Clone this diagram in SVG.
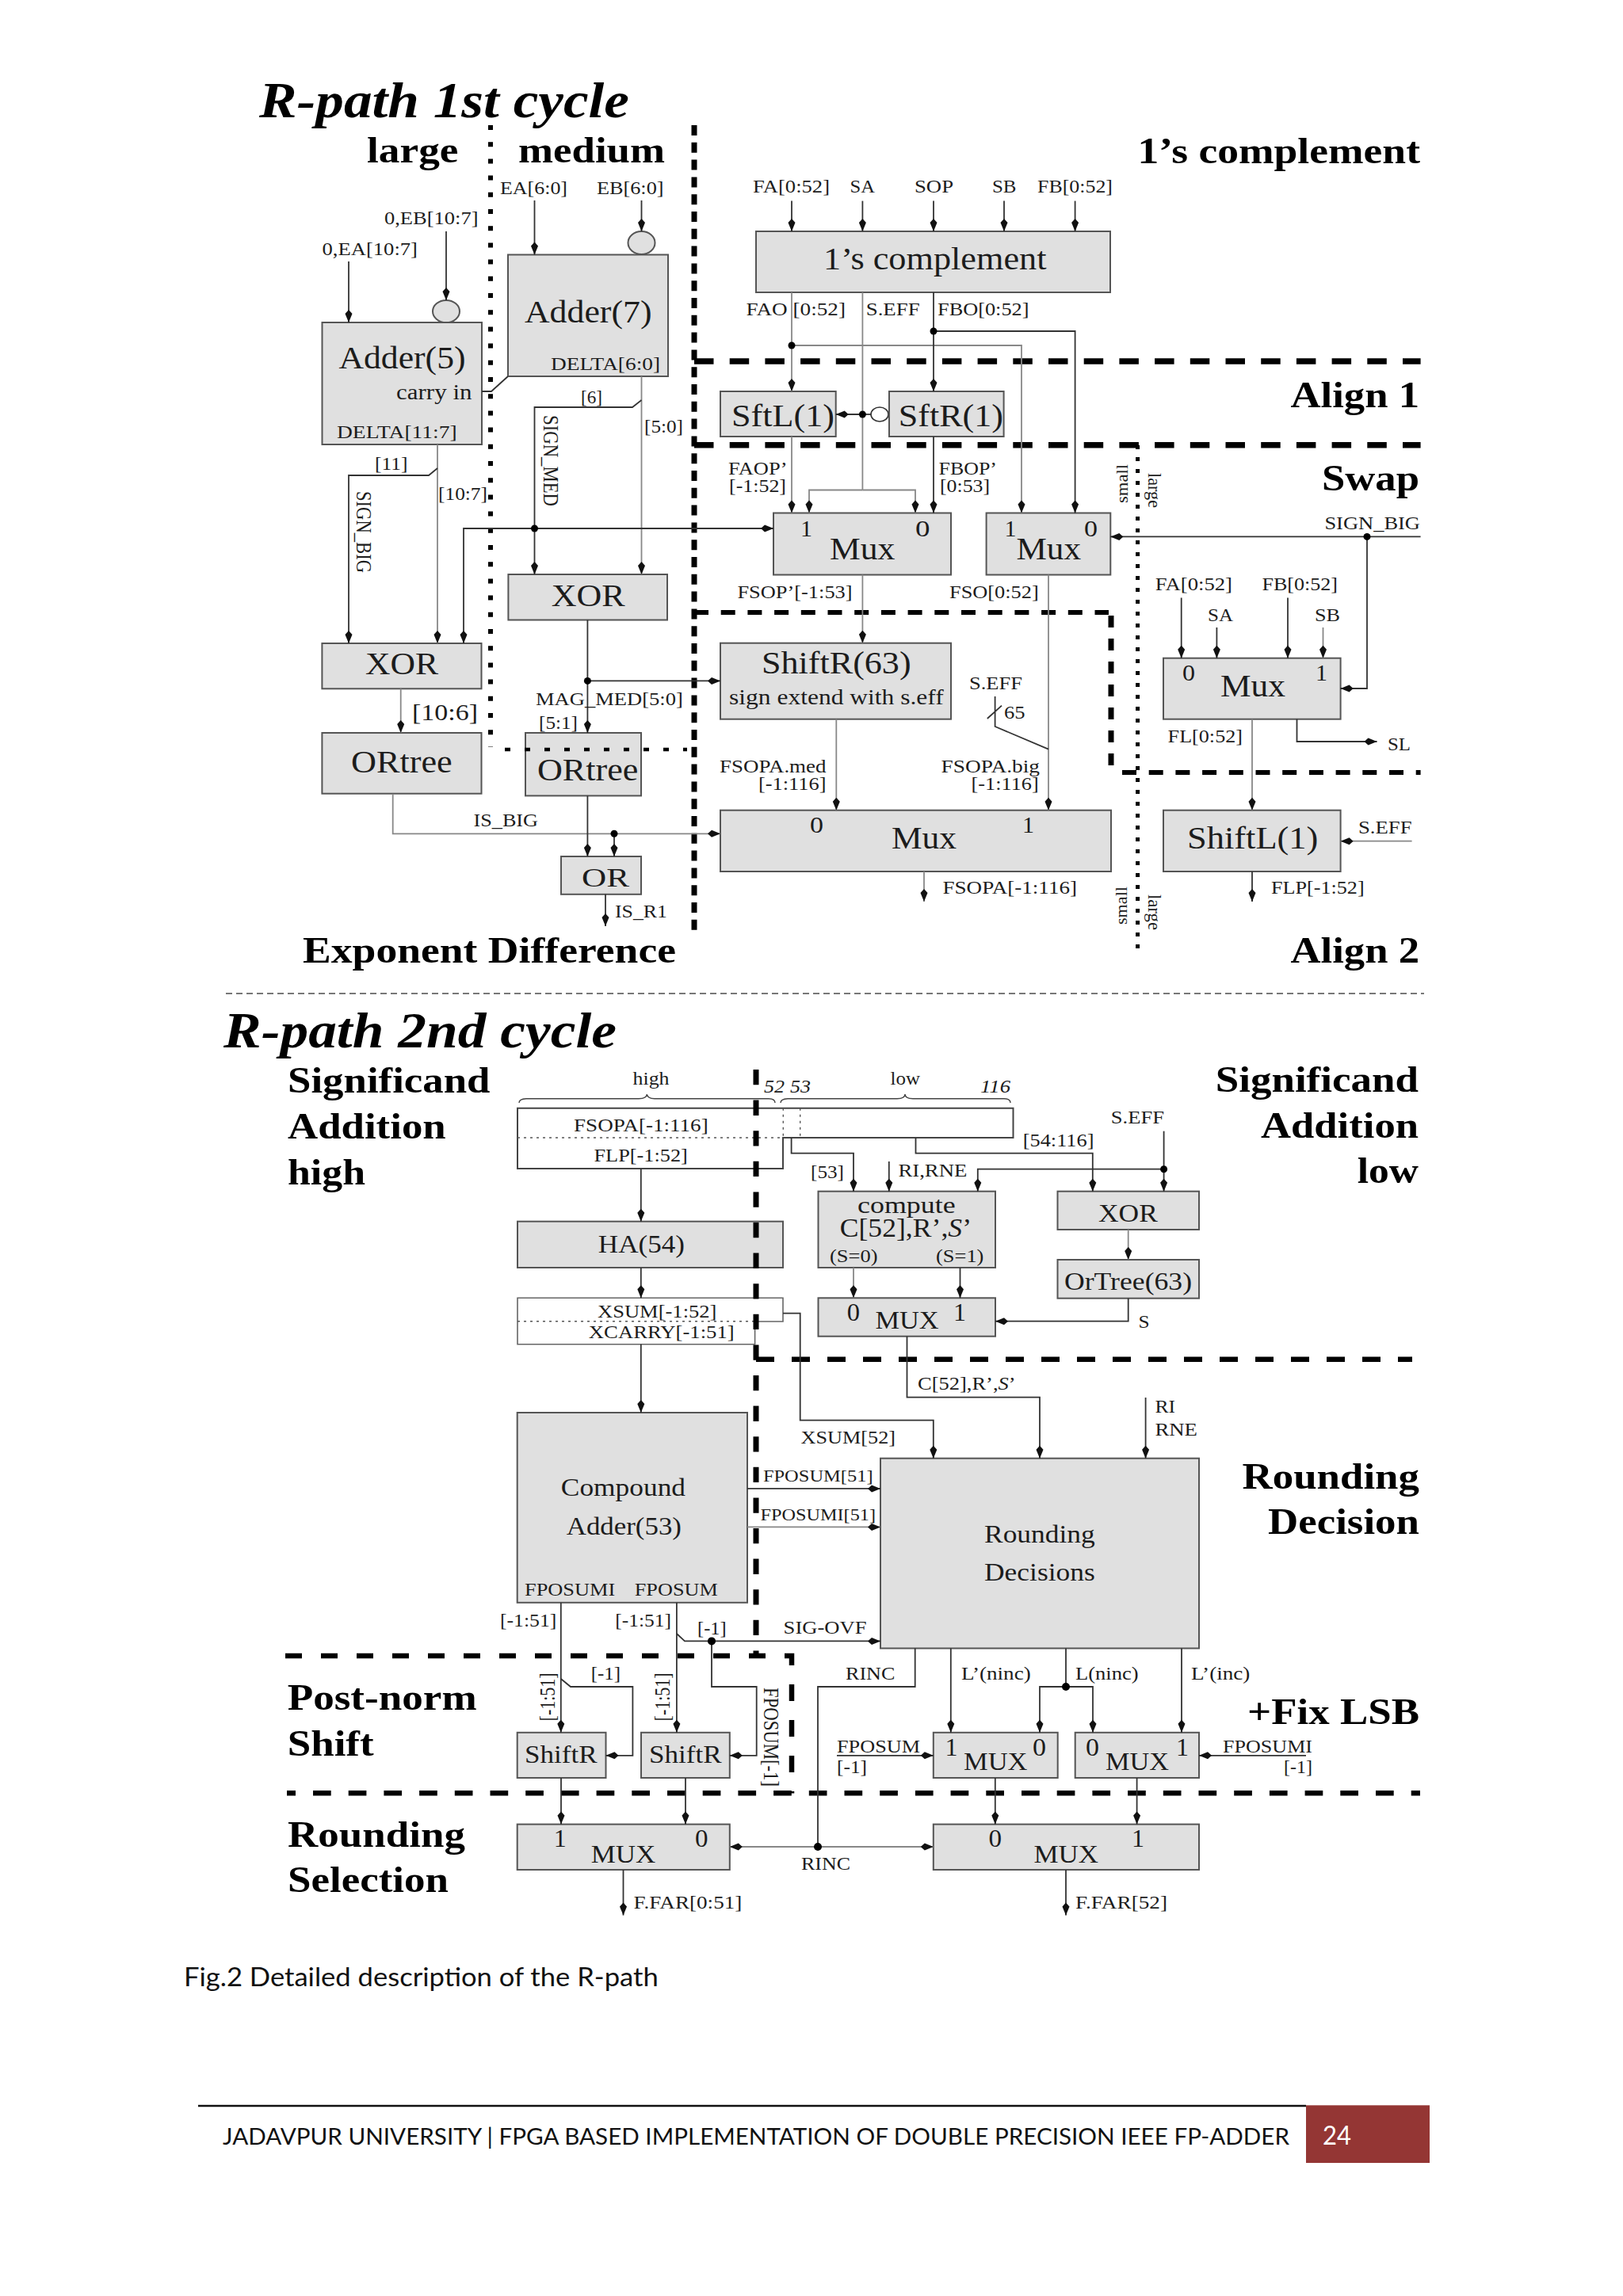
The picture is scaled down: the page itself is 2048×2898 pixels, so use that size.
<svg xmlns="http://www.w3.org/2000/svg" width="2048" height="2898" viewBox="0 0 2048 2898">
<style>
text{font-family:"Liberation Serif","Times New Roman",serif;fill:#1c1c1c}
.t{font-size:63px;font-weight:bold;font-style:italic;fill:#000}
.h{font-size:46px;font-weight:bold;fill:#000}
.f22{font-size:22px}.f23{font-size:23px}.f24{font-size:24px}.f26{font-size:27px}.f28{font-size:28px}.f30{font-size:30px}.f32{font-size:32px}.f34{font-size:34px}.f40{font-size:40px}
.b{fill:#e0e0e0;stroke:#555;stroke-width:2}
.wb{fill:#fff;stroke:#444;stroke-width:2}
.d{fill:none;stroke:#000}
.w{fill:none;stroke:#333;stroke-width:1.8}
.g{fill:none;stroke:#888;stroke-width:1.8}
.a{marker-end:url(#ah)}
.dot{fill:#000}
.br{fill:none;stroke:#444;stroke-width:1.4}
.ft{font-family:Lato,"Open Sans",sans-serif;fill:#111}
</style>
<defs>
<marker id="ah" markerUnits="userSpaceOnUse" markerWidth="18" markerHeight="12" refX="17" refY="6" orient="auto"><path d="M1 6L6 1.5L17 6L6 10.5Z" fill="#111"/></marker>
</defs>
<rect width="2048" height="2898" fill="#fff"/>

<g id="nodes">
<g id="adder5"><ellipse cx="563" cy="393" rx="17" ry="14" class="b"/><rect x="406.5" y="407" width="201.5" height="154" class="b"/><text x="427.5" y="464.6" class="f40" textLength="160" lengthAdjust="spacingAndGlyphs">Adder(5)</text><text x="500" y="503.6" class="f26" textLength="95.5" lengthAdjust="spacingAndGlyphs">carry in</text><text x="425" y="553" class="f24" textLength="151.6" lengthAdjust="spacingAndGlyphs">DELTA[11:7]</text></g>
<g id="adder7"><ellipse cx="809.5" cy="306.6" rx="17" ry="14.5" class="b"/><rect x="641" y="321.5" width="202" height="153.5" class="b"/><text x="662" y="407" class="f40" textLength="160.5" lengthAdjust="spacingAndGlyphs">Adder(7)</text><text x="695" y="466.5" class="f24" textLength="138" lengthAdjust="spacingAndGlyphs">DELTA[6:0]</text></g>
<g id="xor-med"><rect x="641.4" y="725" width="200.6" height="57.5" class="b"/><text x="695.7" y="765" class="f40" textLength="92.9" lengthAdjust="spacingAndGlyphs">XOR</text></g>
<g id="xor-large"><rect x="406.4" y="812" width="201.1" height="57.3" class="b"/><text x="461" y="851" class="f40" textLength="92" lengthAdjust="spacingAndGlyphs">XOR</text></g>
<g id="ortree-large"><rect x="406.4" y="925" width="201.1" height="76.7" class="b"/><text x="443" y="975" class="f40" textLength="127.7" lengthAdjust="spacingAndGlyphs">ORtree</text></g>
<g id="ortree-med"><rect x="663" y="925" width="146" height="79.4" class="b"/><text x="678" y="984.5" class="f40" textLength="127.4" lengthAdjust="spacingAndGlyphs">ORtree</text></g>
<g id="or"><rect x="708" y="1081" width="101" height="47.8" class="b"/><text x="734" y="1119" class="f34" textLength="60" lengthAdjust="spacingAndGlyphs">OR</text></g>
<g id="ones-complement"><rect x="954" y="292" width="447" height="77" class="b"/><text x="1039" y="340" class="f40" textLength="281.5" lengthAdjust="spacingAndGlyphs">1’s complement</text></g>
<g id="sftl"><rect x="909" y="494" width="145.7" height="57" class="b"/><text x="923" y="537.6" class="f40" textLength="130" lengthAdjust="spacingAndGlyphs">SftL(1)</text></g>
<g id="sftr"><ellipse cx="1110" cy="523" rx="11" ry="9" fill="#fff" stroke="#333" stroke-width="1.6"/><rect x="1122" y="494" width="144.6" height="57" class="b"/><text x="1133.7" y="537.6" class="f40" textLength="132.3" lengthAdjust="spacingAndGlyphs">SftR(1)</text></g>
<g id="mux-swap-1"><rect x="976" y="647.5" width="224" height="78" class="b"/><text x="1010" y="677" class="f30" textLength="15" lengthAdjust="spacingAndGlyphs">1</text><text x="1155" y="677" class="f30" textLength="18.5" lengthAdjust="spacingAndGlyphs">0</text><text x="1047" y="705.6" class="f40" textLength="82.4" lengthAdjust="spacingAndGlyphs">Mux</text></g>
<g id="mux-swap-2"><rect x="1244.6" y="647.5" width="156.7" height="78" class="b"/><text x="1267.5" y="677" class="f30" textLength="15" lengthAdjust="spacingAndGlyphs">1</text><text x="1368" y="677" class="f30" textLength="17" lengthAdjust="spacingAndGlyphs">0</text><text x="1282.5" y="705.6" class="f40" textLength="81.5" lengthAdjust="spacingAndGlyphs">Mux</text></g>
<g id="shiftr63"><rect x="909" y="811.7" width="291" height="96" class="b"/><text x="961" y="850" class="f40" textLength="188.6" lengthAdjust="spacingAndGlyphs">ShiftR(63)</text><text x="920" y="889" class="f26" textLength="270.7" lengthAdjust="spacingAndGlyphs">sign extend with s.eff</text></g>
<g id="mux-align"><rect x="909" y="1022.7" width="493" height="77.3" class="b"/><text x="1022" y="1051" class="f30" textLength="17" lengthAdjust="spacingAndGlyphs">0</text><text x="1290" y="1051" class="f30" textLength="15" lengthAdjust="spacingAndGlyphs">1</text><text x="1125" y="1071" class="f40" textLength="82" lengthAdjust="spacingAndGlyphs">Mux</text></g>
<g id="mux-large"><rect x="1468" y="830.7" width="223.6" height="77" class="b"/><text x="1492" y="859" class="f30" textLength="16" lengthAdjust="spacingAndGlyphs">0</text><text x="1660" y="859" class="f30" textLength="15" lengthAdjust="spacingAndGlyphs">1</text><text x="1540" y="879" class="f40" textLength="82" lengthAdjust="spacingAndGlyphs">Mux</text></g>
<g id="shiftl1"><rect x="1468" y="1022.7" width="223.6" height="77.3" class="b"/><text x="1498" y="1071" class="f40" textLength="165.4" lengthAdjust="spacingAndGlyphs">ShiftL(1)</text></g>

<g id="fsopa-flp"><path d="M653 1398.7H1278.5V1436H988V1475H653Z" class="wb"/><path d="M653 1436H988M988.3 1398.7V1436M1009.7 1398.7V1436" fill="none" stroke="#555" stroke-width="1.4" stroke-dasharray="3 5"/><path d="M655 1392Q655 1387 664 1386.7H806Q816 1386.7 816.4 1381Q817 1386.7 826 1386.7H970Q978 1386.7 978 1392" class="br"/><path d="M985 1392Q985 1387 994 1386.7H1132Q1142 1386.7 1142 1381Q1142 1386.7 1152 1386.7H1267Q1275 1386.7 1275 1392" class="br"/><text x="724" y="1427.7" class="f24" textLength="169.7" lengthAdjust="spacingAndGlyphs">FSOPA[-1:116]</text><text x="749.5" y="1466" class="f24" textLength="118.3" lengthAdjust="spacingAndGlyphs">FLP[-1:52]</text></g>
<g id="ha54"><rect x="653" y="1541.7" width="335" height="58.3" class="b"/><text x="754.8" y="1580.7" class="f32" textLength="109.2" lengthAdjust="spacingAndGlyphs">HA(54)</text></g>
<g id="xsum-xcarry"><path d="M988 1668V1638.3H653V1696.7H952.6V1668Z" fill="#fff" stroke="#666" stroke-width="1.6"/><path d="M653 1667.7H952" fill="none" stroke="#555" stroke-width="1.4" stroke-dasharray="3 5"/><text x="754" y="1662.7" class="f23" textLength="150.4" lengthAdjust="spacingAndGlyphs">XSUM[-1:52]</text><text x="742.8" y="1688.5" class="f23" textLength="183.9" lengthAdjust="spacingAndGlyphs">XCARRY[-1:51]</text></g>
<g id="compute"><rect x="1032.5" y="1503.7" width="223.5" height="96.3" class="b"/><text x="1082" y="1531" class="f30" textLength="123.7" lengthAdjust="spacingAndGlyphs">compute</text><text x="1059.7" y="1561" class="f34" textLength="166.3" lengthAdjust="spacingAndGlyphs">C[52],R’,<tspan font-style="italic">S</tspan>’</text><text x="1047" y="1593" class="f23" textLength="60.5" lengthAdjust="spacingAndGlyphs">(S=0)</text><text x="1181" y="1593" class="f23" textLength="60.4" lengthAdjust="spacingAndGlyphs">(S=1)</text></g>
<g id="mux-low"><rect x="1032.5" y="1638.3" width="223.5" height="48.4" class="b"/><text x="1068.7" y="1667" class="f32" textLength="16.3" lengthAdjust="spacingAndGlyphs">0</text><text x="1203" y="1667" class="f32" textLength="16" lengthAdjust="spacingAndGlyphs">1</text><text x="1104.4" y="1676.7" class="f32" textLength="80.3" lengthAdjust="spacingAndGlyphs">MUX</text></g>
<g id="xor-low"><rect x="1334.5" y="1503.7" width="178.5" height="48.3" class="b"/><text x="1386" y="1541.7" class="f32" textLength="74.8" lengthAdjust="spacingAndGlyphs">XOR</text></g>
<g id="ortree63"><rect x="1334.5" y="1590" width="178.5" height="48.7" class="b"/><text x="1343" y="1628.3" class="f32" textLength="161" lengthAdjust="spacingAndGlyphs">OrTree(63)</text></g>
<g id="compound-adder"><rect x="652.7" y="1783" width="290.3" height="239.8" class="b"/><text x="707.8" y="1888.4" class="f32" textLength="157.2" lengthAdjust="spacingAndGlyphs">Compound</text><text x="714.7" y="1937" class="f32" textLength="145.3" lengthAdjust="spacingAndGlyphs">Adder(53)</text><text x="662" y="2014" class="f24" textLength="114.3" lengthAdjust="spacingAndGlyphs">FPOSUMI</text><text x="800.8" y="2014" class="f24" textLength="104.9" lengthAdjust="spacingAndGlyphs">FPOSUM</text></g>
<g id="rounding-decisions"><rect x="1111" y="1840.7" width="402" height="239.8" class="b"/><text x="1242" y="1947" class="f32" textLength="139.8" lengthAdjust="spacingAndGlyphs">Rounding</text><text x="1242" y="1994.7" class="f32" textLength="139.8" lengthAdjust="spacingAndGlyphs">Decisions</text></g>
<g id="shiftr-1"><rect x="652.7" y="2186.8" width="111.8" height="57.2" class="b"/><text x="662" y="2225.4" class="f32" textLength="91.5" lengthAdjust="spacingAndGlyphs">ShiftR</text></g>
<g id="shiftr-2"><rect x="809" y="2186.8" width="111.8" height="57.2" class="b"/><text x="819" y="2225.4" class="f32" textLength="91.6" lengthAdjust="spacingAndGlyphs">ShiftR</text></g>
<g id="mux-fix-1"><rect x="1177.8" y="2186.8" width="156.9" height="57.2" class="b"/><text x="1192.6" y="2215.8" class="f32" textLength="16" lengthAdjust="spacingAndGlyphs">1</text><text x="1303" y="2215.8" class="f32" textLength="17" lengthAdjust="spacingAndGlyphs">0</text><text x="1216" y="2234" class="f32" textLength="80.5" lengthAdjust="spacingAndGlyphs">MUX</text></g>
<g id="mux-fix-2"><rect x="1356.7" y="2186.8" width="156.3" height="57.2" class="b"/><text x="1370" y="2215.8" class="f32" textLength="17" lengthAdjust="spacingAndGlyphs">0</text><text x="1484" y="2215.8" class="f32" textLength="16" lengthAdjust="spacingAndGlyphs">1</text><text x="1395" y="2234" class="f32" textLength="80" lengthAdjust="spacingAndGlyphs">MUX</text></g>
<g id="mux-sel-1"><rect x="652.7" y="2302.6" width="268.1" height="57.4" class="b"/><text x="698.8" y="2330.7" class="f32" textLength="16" lengthAdjust="spacingAndGlyphs">1</text><text x="877" y="2330.7" class="f32" textLength="16.5" lengthAdjust="spacingAndGlyphs">0</text><text x="745.7" y="2351" class="f32" textLength="81.6" lengthAdjust="spacingAndGlyphs">MUX</text></g>
<g id="mux-sel-2"><rect x="1177.8" y="2302.6" width="335.2" height="57.4" class="b"/><text x="1247.4" y="2330.7" class="f32" textLength="16.6" lengthAdjust="spacingAndGlyphs">0</text><text x="1428" y="2330.7" class="f32" textLength="16" lengthAdjust="spacingAndGlyphs">1</text><text x="1304.4" y="2351" class="f32" textLength="81.6" lengthAdjust="spacingAndGlyphs">MUX</text></g>
</g>

<g id="regions">
<path d="M876 158V1178" class="d" stroke-width="7" stroke-dasharray="13 8.8"/>
<path d="M619 158V943" class="d" stroke-width="6" stroke-dasharray="6 15.2"/>
<path d="M637 946H867" class="d" stroke-width="4.5" stroke-dasharray="7 18"/>
<path d="M876 456H1792.6M876 561.7H1792.6" class="d" stroke-width="7.5" stroke-dasharray="24.5 20.2"/>
<path d="M876 773H1399" class="d" stroke-width="6" stroke-dasharray="18 15.7"/>
<path d="M1402 777V973" class="d" stroke-width="7" stroke-dasharray="15 14"/>
<path d="M1416 975H1792.6" class="d" stroke-width="6" stroke-dasharray="18 15.7"/>
<path d="M1435.6 562V1200" class="d" stroke-width="5" stroke-dasharray="5 10"/>
<path d="M285 1254H1797" fill="none" stroke="#777" stroke-width="2" stroke-dasharray="8 5"/>
<path d="M954 1350V2090" class="d" stroke-width="7" stroke-dasharray="19.3 19.3"/>
<path d="M954 1715.7H1782" class="d" stroke-width="6.5" stroke-dasharray="23 22"/>
<path d="M360 2090H999V2263.5" class="d" stroke-width="6.5" stroke-dasharray="21 24"/>
<path d="M362 2263.3H1792" class="d" stroke-width="6.5" stroke-dasharray="22.7 22" stroke-dashoffset="11.7"/>
</g>

<g id="connectors">
<path class="w a" d="M440 330V407"/><path class="w a" d="M563 292V379"/><path class="w a" d="M674.5 253V321.5"/><path class="w a" d="M809.5 253V292"/>
<path class="w" d="M608 494H620L641 475"/>
<path class="g a" d="M809.5 475V725"/><path class="w a" d="M809.5 505L798 514H674.5V725"/>
<path class="g a" d="M552 561V812"/><path class="w a" d="M552 591L541 600H440V812"/>
<path class="w a" d="M674.5 667H976"/><path class="w a" d="M674.5 667H585V812"/>
<path class="w a" d="M741.4 782.5V925"/><path class="w a" d="M741.4 859.4H909"/>
<path class="g a" d="M505.7 869.3V925"/>
<path class="g a" d="M495.7 1003V1052.3H909"/><path class="w a" d="M775 1052.3V1081"/><path class="w a" d="M741.4 1004.4V1081"/><path class="w a" d="M764 1128.8V1169"/>
<path class="w a" d="M999 253.6V292"/><path class="w a" d="M1088.4 253.6V292"/><path class="w a" d="M1178 253.6V292"/><path class="w a" d="M1267 253.6V292"/><path class="w a" d="M1356.6 253.6V292"/>
<path class="g a" d="M999 369V494"/><path class="g a" d="M999 436H1289V647.5"/>
<path class="w a" d="M1178 369V494"/><path class="w a" d="M1178 418H1356.6V647.5"/>
<path class="g" d="M1088.4 369V618.5"/><path class="g a" d="M1088.4 618.5H1021V647.5"/><path class="g a" d="M1088.4 618.5H1155V647.5"/>
<path class="w a" d="M1088.4 523H1054.7"/><path class="w" d="M1088.4 523H1099"/>
<path class="g a" d="M999 551V647.5"/><path class="w a" d="M1178 551V647.5"/>
<path class="w a" d="M1792.6 677.4H1401.3"/><path class="w a" d="M1725 677.4V869H1691.6"/>
<path class="g a" d="M1088.4 725.5V811.7"/><path class="g a" d="M1323 725.5V1022.7"/>
<path class="w" d="M1255.6 879V917L1323 945.7M1245.8 907L1264 890.7"/>
<path class="g a" d="M1055.3 907.7V1022.7"/><path class="g a" d="M1166 1100V1138"/>
<path class="w a" d="M1490.7 754.5V830.7"/><path class="w a" d="M1535.4 792V830.7"/><path class="w a" d="M1625 754.5V830.7"/><path class="g a" d="M1669.5 792V830.7"/>
<path class="g a" d="M1580 907.7V1022.7"/><path class="w a" d="M1636.5 907.7V936H1737.5"/>
<path class="g a" d="M1781.6 1061.7H1691.6"/><path class="w a" d="M1580 1100V1138"/>
<path class="w a" d="M998.6 1436V1455.7H1077V1503.7"/><path class="w a" d="M1121.8 1466V1503.7"/><path class="w a" d="M1155.5 1436V1455.7H1378.8V1503.7"/><path class="w a" d="M1468.6 1427.7V1503.7"/><path class="w a" d="M1468.6 1475.7H1233.8V1503.7"/>
<path class="g a" d="M1077 1600V1638.3"/><path class="w a" d="M1211.5 1600V1638.3"/><path class="g a" d="M1423.7 1552V1590"/><path class="w a" d="M1423.7 1638.7V1667.7H1256"/>
<path class="w a" d="M808.8 1475V1541.7"/><path class="w a" d="M808.8 1600V1638.3"/><path class="w a" d="M808.8 1696.7V1783"/>
<path class="w a" d="M988 1657.7H1009.7V1792.7H1177.8V1840.7"/><path class="w a" d="M1144.5 1686.7V1763.7H1312V1840.7"/><path class="w a" d="M1445.6 1764V1840.7"/>
<path class="w a" d="M943 1878.9H1111"/><path class="g a" d="M943 1927.4H1111"/>
<path class="w a" d="M707.8 2022.8V2186.8"/><path class="w a" d="M853.9 2022.8V2186.8"/><path class="w a" d="M853.9 2062L864 2071.4H1111"/><path class="w a" d="M898 2071.4V2129H954.7V2215.8H920.8"/><path class="w a" d="M707.8 2119L720 2129H798.4V2215.8H764.5"/>
<path class="w" d="M1154.7 2080.5V2129H1032V2331"/><path class="g a" d="M1032 2331H920.8"/><path class="g a" d="M1032 2331H1177.8"/>
<path class="w a" d="M1199.8 2080.5V2186.8"/><path class="w" d="M1345 2080.5V2129"/><path class="w a" d="M1345 2129H1312V2186.8"/><path class="w a" d="M1345 2129H1379V2186.8"/><path class="w a" d="M1491 2080.5V2186.8"/>
<path class="w a" d="M1056 2215.8H1177.8"/><path class="w a" d="M1648 2215.8H1513"/>
<path class="w a" d="M708 2244V2302.6"/><path class="w a" d="M865 2244V2302.6"/><path class="w a" d="M1255.8 2244V2302.6"/><path class="w a" d="M1434.6 2244V2302.6"/>
<path class="w a" d="M786.5 2360V2417.5"/><path class="w a" d="M1345 2360V2417.5"/>
<circle class="dot" cx="674.5" cy="667" r="4.5"/><circle class="dot" cx="741.4" cy="859.4" r="4.5"/><circle class="dot" cx="775" cy="1052.3" r="4.5"/><circle class="dot" cx="999" cy="436" r="4.5"/><circle class="dot" cx="1178" cy="418" r="4.5"/><circle class="dot" cx="1088.4" cy="523" r="4.5"/><circle class="dot" cx="1725" cy="677.4" r="4.5"/><circle class="dot" cx="1468.6" cy="1475.7" r="4.5"/><circle class="dot" cx="898" cy="2071.4" r="5"/><circle class="dot" cx="1032" cy="2331" r="5"/><circle class="dot" cx="1345" cy="2129" r="5"/>
</g>

<g id="labels">
<text x="327" y="148" class="t" textLength="467" lengthAdjust="spacingAndGlyphs">R-path 1st cycle</text>
<text x="463" y="205" class="h" textLength="115.5" lengthAdjust="spacingAndGlyphs">large</text>
<text x="654" y="205" class="h" textLength="185" lengthAdjust="spacingAndGlyphs">medium</text>
<text x="1435.6" y="206" class="h" textLength="356.4" lengthAdjust="spacingAndGlyphs">1’s complement</text>
<text x="1628.5" y="513.6" class="h" textLength="162.5" lengthAdjust="spacingAndGlyphs">Align 1</text>
<text x="1668" y="618.5" class="h" textLength="123" lengthAdjust="spacingAndGlyphs">Swap</text>
<text x="1628.5" y="1215" class="h" textLength="162.5" lengthAdjust="spacingAndGlyphs">Align 2</text>
<text x="382" y="1215" class="h" textLength="471" lengthAdjust="spacingAndGlyphs">Exponent Difference</text>
<text x="282" y="1321.7" class="t" textLength="496" lengthAdjust="spacingAndGlyphs">R-path 2nd cycle</text>
<text x="363" y="1379" class="h" textLength="255.5" lengthAdjust="spacingAndGlyphs">Significand</text>
<text x="363" y="1436.7" class="h" textLength="199.7" lengthAdjust="spacingAndGlyphs">Addition</text>
<text x="363" y="1495" class="h" textLength="98" lengthAdjust="spacingAndGlyphs">high</text>
<text x="1533.7" y="1378.3" class="h" textLength="256.3" lengthAdjust="spacingAndGlyphs">Significand</text>
<text x="1591" y="1435.7" class="h" textLength="199" lengthAdjust="spacingAndGlyphs">Addition</text>
<text x="1712.7" y="1493" class="h" textLength="77.3" lengthAdjust="spacingAndGlyphs">low</text>
<text x="1567.5" y="1878.9" class="h" textLength="223.5" lengthAdjust="spacingAndGlyphs">Rounding</text>
<text x="1600" y="1936" class="h" textLength="191" lengthAdjust="spacingAndGlyphs">Decision</text>
<text x="1574" y="2176" class="h" textLength="217" lengthAdjust="spacingAndGlyphs">+Fix LSB</text>
<text x="362.7" y="2158" class="h" textLength="239" lengthAdjust="spacingAndGlyphs">Post-norm</text>
<text x="362.7" y="2216" class="h" textLength="109" lengthAdjust="spacingAndGlyphs">Shift</text>
<text x="363" y="2330.7" class="h" textLength="224" lengthAdjust="spacingAndGlyphs">Rounding</text>
<text x="363" y="2388" class="h" textLength="203" lengthAdjust="spacingAndGlyphs">Selection</text>

<text x="631" y="245" class="f24" textLength="85" lengthAdjust="spacingAndGlyphs">EA[6:0]</text>
<text x="753" y="245" class="f24" textLength="84.5" lengthAdjust="spacingAndGlyphs">EB[6:0]</text>
<text x="485" y="283" class="f24" textLength="118.5" lengthAdjust="spacingAndGlyphs">0,EB[10:7]</text>
<text x="406.5" y="322" class="f24" textLength="120.5" lengthAdjust="spacingAndGlyphs">0,EA[10:7]</text>
<text x="733" y="508.6" class="f24" textLength="27" lengthAdjust="spacingAndGlyphs">[6]</text>
<text x="813" y="546" class="f24" textLength="49" lengthAdjust="spacingAndGlyphs">[5:0]</text>
<text x="473" y="593" class="f24" textLength="41.5" lengthAdjust="spacingAndGlyphs">[11]</text>
<text x="553" y="631" class="f24" textLength="62" lengthAdjust="spacingAndGlyphs">[10:7]</text>
<text transform="translate(686,524) rotate(90)" class="f28" textLength="115" lengthAdjust="spacingAndGlyphs">SIGN_MED</text>
<text transform="translate(450,620) rotate(90)" class="f28" textLength="103" lengthAdjust="spacingAndGlyphs">SIGN_BIG</text>
<text x="950" y="243" class="f24" textLength="97" lengthAdjust="spacingAndGlyphs">FA[0:52]</text>
<text x="1072.5" y="243" class="f24" textLength="31.5" lengthAdjust="spacingAndGlyphs">SA</text>
<text x="1154" y="243" class="f24" textLength="49" lengthAdjust="spacingAndGlyphs">SOP</text>
<text x="1252" y="243" class="f24" textLength="30.5" lengthAdjust="spacingAndGlyphs">SB</text>
<text x="1309" y="243" class="f24" textLength="95" lengthAdjust="spacingAndGlyphs">FB[0:52]</text>
<text x="941.4" y="398" class="f24" textLength="125.6" lengthAdjust="spacingAndGlyphs">FAO [0:52]</text>
<text x="1092.7" y="398" class="f24" textLength="68" lengthAdjust="spacingAndGlyphs">S.EFF</text>
<text x="1183" y="398" class="f24" textLength="115.5" lengthAdjust="spacingAndGlyphs">FBO[0:52]</text>
<text x="919" y="599" class="f23" textLength="74.5" lengthAdjust="spacingAndGlyphs">FAOP’</text>
<text x="920" y="621" class="f23" textLength="72" lengthAdjust="spacingAndGlyphs">[-1:52]</text>
<text x="1184.5" y="599" class="f23" textLength="73.5" lengthAdjust="spacingAndGlyphs">FBOP’</text>
<text x="1186" y="621" class="f23" textLength="63" lengthAdjust="spacingAndGlyphs">[0:53]</text>
<text transform="translate(1423,635) rotate(-90)" class="f22" textLength="49" lengthAdjust="spacingAndGlyphs">small</text>
<text transform="translate(1449,597) rotate(90)" class="f24" textLength="44" lengthAdjust="spacingAndGlyphs">large</text>
<text x="1671.4" y="668" class="f24" textLength="120.6" lengthAdjust="spacingAndGlyphs">SIGN_BIG</text>
<text x="930.4" y="754.5" class="f24" textLength="145.2" lengthAdjust="spacingAndGlyphs">FSOP’[-1:53]</text>
<text x="1198" y="754.5" class="f24" textLength="112.7" lengthAdjust="spacingAndGlyphs">FSO[0:52]</text>
<text x="1457.7" y="745" class="f24" textLength="97.3" lengthAdjust="spacingAndGlyphs">FA[0:52]</text>
<text x="1592.4" y="745" class="f24" textLength="95.6" lengthAdjust="spacingAndGlyphs">FB[0:52]</text>
<text x="1524" y="783.5" class="f24" textLength="32" lengthAdjust="spacingAndGlyphs">SA</text>
<text x="1659" y="783.5" class="f24" textLength="32" lengthAdjust="spacingAndGlyphs">SB</text>
<text x="1223" y="870" class="f24" textLength="67" lengthAdjust="spacingAndGlyphs">S.EFF</text>
<text x="1267" y="907" class="f24" textLength="26.6" lengthAdjust="spacingAndGlyphs">65</text>
<text x="908" y="974.5" class="f23" textLength="134.5" lengthAdjust="spacingAndGlyphs">FSOPA.med</text>
<text x="957" y="997" class="f23" textLength="85.5" lengthAdjust="spacingAndGlyphs">[-1:116]</text>
<text x="1187.6" y="974.5" class="f23" textLength="124.4" lengthAdjust="spacingAndGlyphs">FSOPA.big</text>
<text x="1225.6" y="997" class="f23" textLength="85.1" lengthAdjust="spacingAndGlyphs">[-1:116]</text>
<text x="1189.5" y="1128" class="f24" textLength="169.5" lengthAdjust="spacingAndGlyphs">FSOPA[-1:116]</text>
<text transform="translate(1422,1167) rotate(-90)" class="f22" textLength="48" lengthAdjust="spacingAndGlyphs">small</text>
<text transform="translate(1449,1129) rotate(90)" class="f24" textLength="45" lengthAdjust="spacingAndGlyphs">large</text>
<text x="1473.6" y="936.7" class="f24" textLength="94.4" lengthAdjust="spacingAndGlyphs">FL[0:52]</text>
<text x="1751" y="946.7" class="f24" textLength="29" lengthAdjust="spacingAndGlyphs">SL</text>
<text x="1714" y="1051.7" class="f24" textLength="67.6" lengthAdjust="spacingAndGlyphs">S.EFF</text>
<text x="1604" y="1128" class="f24" textLength="117.6" lengthAdjust="spacingAndGlyphs">FLP[-1:52]</text>
<text x="520" y="908.8" class="f30" textLength="83" lengthAdjust="spacingAndGlyphs">[10:6]</text>
<text x="676" y="889.6" class="f24" textLength="185.8" lengthAdjust="spacingAndGlyphs">MAG_MED[5:0]</text>
<text x="680" y="920" class="f24" textLength="49" lengthAdjust="spacingAndGlyphs">[5:1]</text>
<text x="597.5" y="1042.7" class="f24" textLength="81.5" lengthAdjust="spacingAndGlyphs">IS_BIG</text>
<text x="776" y="1158" class="f24" textLength="66" lengthAdjust="spacingAndGlyphs">IS_R1</text>

<text x="798.6" y="1369" class="f24" textLength="45.9" lengthAdjust="spacingAndGlyphs">high</text>
<text x="1123.6" y="1369" class="f24" textLength="37.4" lengthAdjust="spacingAndGlyphs">low</text>
<text x="964" y="1379" class="f24" font-style="italic" textLength="26" lengthAdjust="spacingAndGlyphs">52</text>
<text x="997" y="1379" class="f24" font-style="italic" textLength="26" lengthAdjust="spacingAndGlyphs">53</text>
<text x="1237" y="1379" class="f24" font-style="italic" textLength="38" lengthAdjust="spacingAndGlyphs">116</text>
<text x="1401.8" y="1418" class="f24" textLength="67.2" lengthAdjust="spacingAndGlyphs">S.EFF</text>
<text x="1290.7" y="1447" class="f24" textLength="89.8" lengthAdjust="spacingAndGlyphs">[54:116]</text>
<text x="1023" y="1486.7" class="f24" textLength="42" lengthAdjust="spacingAndGlyphs">[53]</text>
<text x="1133.4" y="1485" class="f24" textLength="87" lengthAdjust="spacingAndGlyphs">RI,RNE</text>
<text x="1436.6" y="1676" class="f24" textLength="14.1" lengthAdjust="spacingAndGlyphs">S</text>
<text x="1158" y="1754.3" class="f24" textLength="123.6" lengthAdjust="spacingAndGlyphs">C[52],R’,<tspan font-style="italic">S</tspan>’</text>
<text x="1010.6" y="1821.7" class="f24" textLength="119.4" lengthAdjust="spacingAndGlyphs">XSUM[52]</text>
<text x="1457.4" y="1783" class="f24" textLength="25.6" lengthAdjust="spacingAndGlyphs">RI</text>
<text x="1457.4" y="1811.7" class="f24" textLength="53.6" lengthAdjust="spacingAndGlyphs">RNE</text>
<text x="962.9" y="1870" class="f22" textLength="138.7" lengthAdjust="spacingAndGlyphs">FPOSUM[51]</text>
<text x="959.6" y="1918.8" class="f22" textLength="145.4" lengthAdjust="spacingAndGlyphs">FPOSUMI[51]</text>
<text x="631" y="2053" class="f24" textLength="71.4" lengthAdjust="spacingAndGlyphs">[-1:51]</text>
<text x="776.3" y="2053" class="f24" textLength="70.7" lengthAdjust="spacingAndGlyphs">[-1:51]</text>
<text x="880" y="2062.7" class="f24" textLength="36.7" lengthAdjust="spacingAndGlyphs">[-1]</text>
<text x="988.6" y="2062" class="f24" textLength="104.9" lengthAdjust="spacingAndGlyphs">SIG-OVF</text>
<text x="745.7" y="2120.4" class="f24" textLength="37.3" lengthAdjust="spacingAndGlyphs">[-1]</text>
<text transform="translate(699.6,2172.4) rotate(-90)" class="f26" textLength="61" lengthAdjust="spacingAndGlyphs">[-1:51]</text>
<text transform="translate(844.5,2172.4) rotate(-90)" class="f26" textLength="61" lengthAdjust="spacingAndGlyphs">[-1:51]</text>
<text transform="translate(964,2130) rotate(90)" class="f28" textLength="125" lengthAdjust="spacingAndGlyphs">FPOSUM[-1]</text>
<text x="1067" y="2119.5" class="f24" textLength="62.4" lengthAdjust="spacingAndGlyphs">RINC</text>
<text x="1011" y="2360" class="f24" textLength="62" lengthAdjust="spacingAndGlyphs">RINC</text>
<text x="1212.9" y="2120.4" class="f24" textLength="87.8" lengthAdjust="spacingAndGlyphs">L’(ninc)</text>
<text x="1357" y="2120.4" class="f24" textLength="79.7" lengthAdjust="spacingAndGlyphs">L(ninc)</text>
<text x="1503" y="2120.4" class="f24" textLength="74.4" lengthAdjust="spacingAndGlyphs">L’(inc)</text>
<text x="1056" y="2212" class="f24" textLength="105" lengthAdjust="spacingAndGlyphs">FPOSUM</text>
<text x="1056" y="2238" class="f24" textLength="38" lengthAdjust="spacingAndGlyphs">[-1]</text>
<text x="1543" y="2212" class="f24" textLength="113" lengthAdjust="spacingAndGlyphs">FPOSUMI</text>
<text x="1620" y="2238" class="f24" textLength="36" lengthAdjust="spacingAndGlyphs">[-1]</text>
<text x="799.6" y="2408.8" class="f24" textLength="136.7" lengthAdjust="spacingAndGlyphs">F.FAR[0:51]</text>
<text x="1357" y="2408.8" class="f24" textLength="116" lengthAdjust="spacingAndGlyphs">F.FAR[52]</text>
</g>

<g id="page">
<text x="232" y="2507" class="ft" font-size="32" textLength="598.7" lengthAdjust="spacingAndGlyphs">Fig.2 Detailed description of the R-path</text>
<path d="M250 2658H1648" stroke="#111" stroke-width="2.5" fill="none"/>
<text x="281" y="2706.7" class="ft" font-size="29" textLength="1346" lengthAdjust="spacingAndGlyphs">JADAVPUR UNIVERSITY | FPGA BASED IMPLEMENTATION OF DOUBLE PRECISION IEEE FP-ADDER</text>
<rect x="1648" y="2657.3" width="156" height="72.7" fill="#943634"/>
<text x="1669" y="2706.7" class="ft" style="fill:#fff" font-size="32" textLength="36" lengthAdjust="spacingAndGlyphs">24</text>
</g>
</svg>
